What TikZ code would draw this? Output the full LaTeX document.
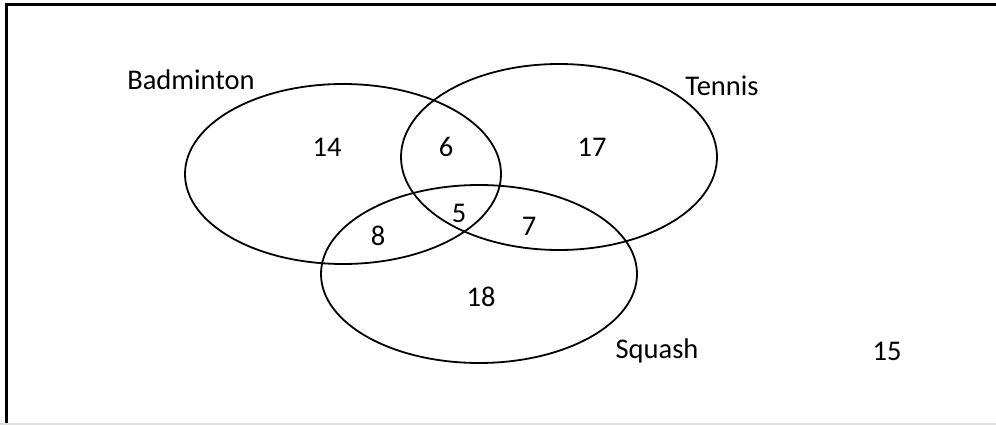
\documentclass[tikz,border=0pt]{standalone}
\usepackage{fontspec}
\setmainfont{Carlito}
\usetikzlibrary{shapes.geometric}
\begin{document}
\begin{tikzpicture}[x=1pt,y=-1pt,
  setellipse/.style={draw, ellipse, line width=1.8pt, inner sep=0pt, minimum width=316pt},
  lbl/.style={inner sep=0pt, font=\fontsize{28.5}{34}\selectfont}]
\useasboundingbox (0,0) rectangle (996,425);
\fill[white] (0,0) rectangle (996,425);
\draw[line width=3pt, black] (6,425) -- (6,5) -- (996,5);
\draw[line width=2pt, black!12] (0,424) -- (996,424);
\node[setellipse, minimum height=180pt] (bad) at (343,174) {};
\node[setellipse, minimum height=186pt] (ten) at (559,157) {};
\node[setellipse, minimum height=178pt] (squ) at (479,274) {};
\node[lbl] (tbad) at (191,80) {Badminton};
\node[lbl] (tten) at (722,86) {Tennis};
\node[lbl] (tsqu) at (657,351) {Squash};
\node[lbl] (n14) at (327,147) {14};
\node[lbl] (n6) at (446,147) {6};
\node[lbl] (n17) at (592,147) {17};
\node[lbl] (n5) at (459,213) {5};
\node[lbl] (n8) at (378,236) {8};
\node[lbl] (n7) at (529,226) {7};
\node[lbl] (n18) at (481,297) {18};
\node[lbl] (n15) at (887,351) {15};
\end{tikzpicture}
\end{document}
